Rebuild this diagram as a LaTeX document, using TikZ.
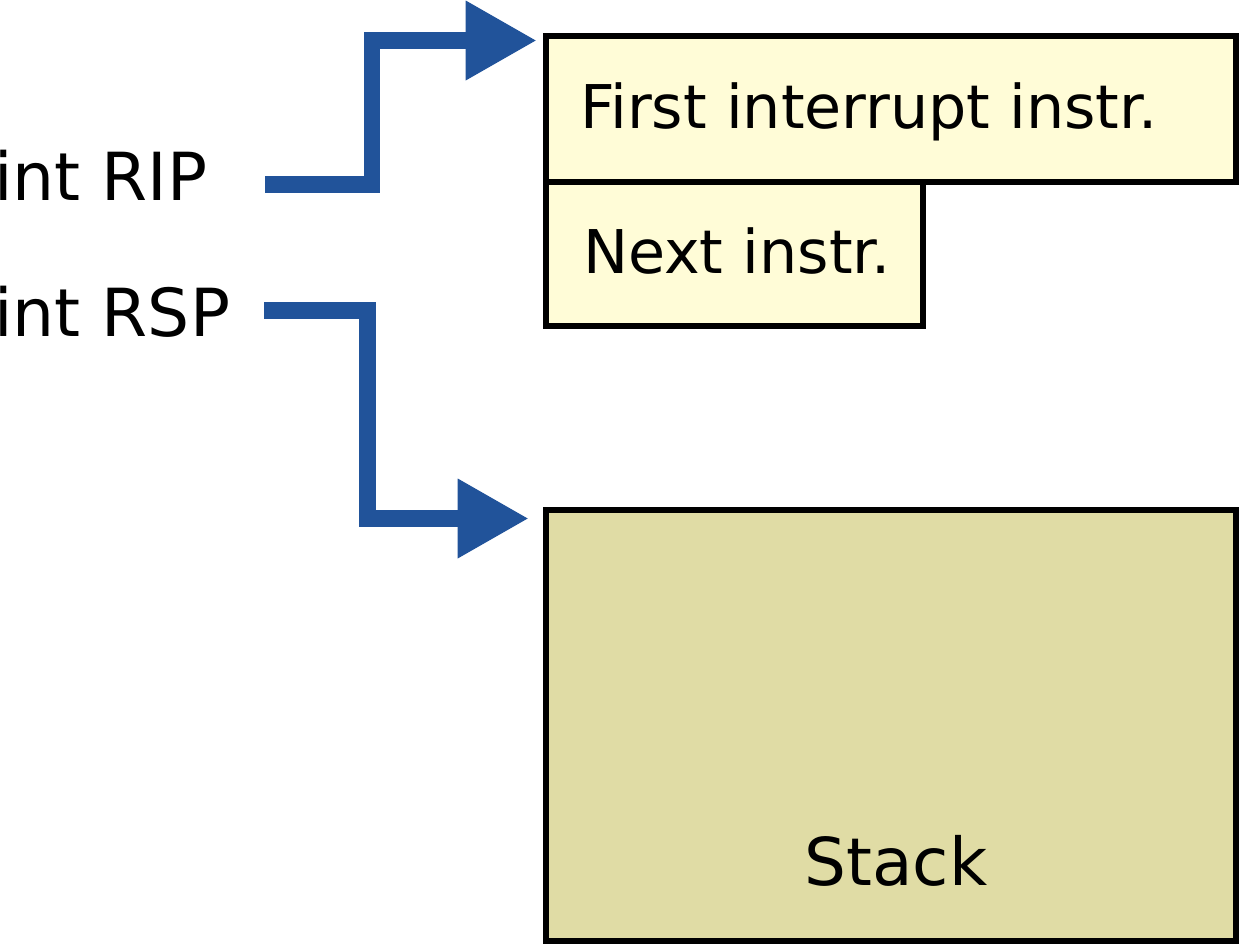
\documentclass[tikz,border=0pt]{standalone}
\usepackage{fontspec}
\setmainfont{DejaVu Sans}
\usetikzlibrary{arrows.meta}
\definecolor{ptrblue}{RGB}{33,83,154}
\definecolor{instrfill}{RGB}{255,252,215}
\definecolor{stackfill}{RGB}{224,220,165}
\tikzset{
  membox/.style={draw=black, line width=6pt, inner sep=0pt, outer sep=0pt, anchor=north west},
  ptr/.style={draw=ptrblue, line width=16.5pt, line join=miter,
    -{Triangle[length=70pt,width=80pt,line width=0pt]}},
  lbl/.style={inner sep=0pt, anchor=base west},
  bigtxt/.style={font=\fontsize{60.3}{72}\selectfont},
  regtxt/.style={font=\fontsize{66.3}{78}\selectfont},
  stacktxt/.style={font=\fontsize{66}{78}\selectfont},
}
\begin{document}
\begin{tikzpicture}[x=1pt,y=-1pt]
\useasboundingbox (0,0) rectangle (1239,945);
% boxes
\node[membox, fill=instrfill, minimum width=690pt, minimum height=145.5pt] (first) at (546,36) {};
\node[membox, fill=instrfill, minimum width=377pt, minimum height=144.5pt] (next) at (546,181.5) {};
\node[membox, fill=stackfill, minimum width=690pt, minimum height=431pt] (stack) at (546,510) {};
% texts
\node[lbl, bigtxt] (firsttxt) at (579.8,128.3) {First interrupt instr.};
\node[lbl, bigtxt] (nexttxt) at (582.8,273.3) {Next instr.};
\node[lbl, stacktxt] (stacktxt) at (804.5,885) {Stack};
\node[lbl, regtxt] (rip) at (-5.8,200) {int RIP};
\node[lbl, regtxt] (rsp) at (-5.8,336.7) {int RSP};
% pointer coordinates
\coordinate (ripsrc) at (265,184.5);
\coordinate (ripbend) at (372,40.5);
\coordinate (riptip) at (535.7,40.5);
\coordinate (rspsrc) at (264,310.5);
\coordinate (rspbend) at (367.6,518.5);
\coordinate (rsptip) at (527.7,518.5);
% pointers
\draw[ptr] (ripsrc) -| (ripbend) -- (riptip);
\draw[ptr] (rspsrc) -| (rspbend) -- (rsptip);
\end{tikzpicture}
\end{document}
